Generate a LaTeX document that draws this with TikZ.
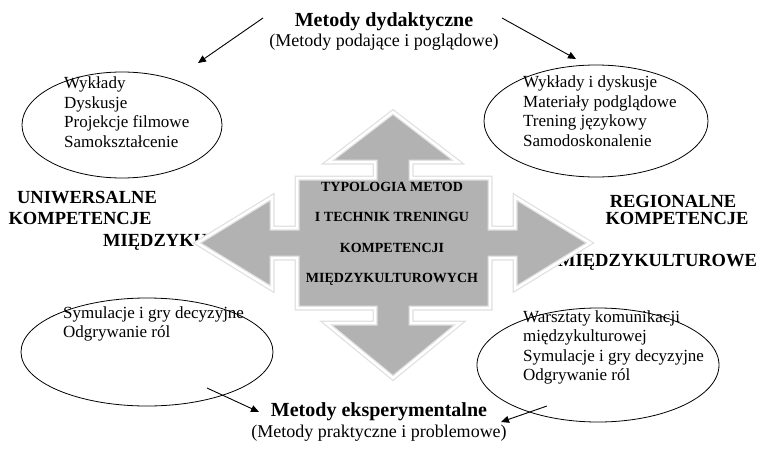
\documentclass[tikz,border=0pt]{standalone}
\usepackage{fontspec}
\setmainfont{Liberation Serif}
\usetikzlibrary{shapes.geometric,arrows.meta}

\tikzset{
  oval/.style={draw,shape=ellipse,line width=0.8pt,inner sep=0pt},
  lista/.style={anchor=north west,align=left,inner sep=0pt,font=\fontsize{17}{19.5}\selectfont},
  tytul/.style={inner sep=0pt,font=\bfseries\fontsize{20}{24}\selectfont},
  podtytul/.style={inner sep=0pt,font=\fontsize{18}{22}\selectfont},
  etykieta/.style={inner sep=0pt,font=\bfseries\fontsize{18.5}{22}\selectfont},
  srodek/.style={inner sep=0pt,align=center,font=\bfseries\fontsize{14}{30.5}\selectfont},
  strzalka/.style={-{Triangle[length=8pt,width=7pt]},line width=0.9pt},
}

\begin{document}
\begin{tikzpicture}[x=1pt,y=-1pt]
    \useasboundingbox (0,0) rectangle (758,450);

    % Tytuly
    \node[tytul] (dyd) at (384,22) {Metody dydaktyczne};
    \node[podtytul] (dydp) at (384,42) {(Metody podające i poglądowe)};
    \node[tytul] (eks) at (379,412) {Metody eksperymentalne};
    \node[podtytul] (eksp) at (379,433) {(Metody praktyczne i problemowe)};

    % Elipsy
    \node[oval,minimum width=200pt,minimum height=106pt] (e1) at (122,125) {};
    \node[oval,minimum width=224pt,minimum height=112pt] (e2) at (596,121) {};
    \node[oval,minimum width=252pt,minimum height=108pt] (e3) at (147,352) {};
    \node[oval,minimum width=242pt,minimum height=114pt] (e4) at (598,365) {};

    \node[lista] (t1) at (64,77) {Wykłady\\Dyskusje\\Projekcje filmowe\\Samokształcenie};
    \node[lista] (t2) at (523,76) {Wykłady i dyskusje\\Materiały podglądowe\\Trening językowy\\Samodoskonalenie};
    \node[lista] (t3) at (63,306) {Symulacje i gry decyzyjne\\Odgrywanie ról};
    \node[lista] (t4) at (523,310) {Warsztaty komunikacji\\międzykulturowej\\Symulacje i gry decyzyjne\\Odgrywanie ról};

    % Etykiety boczne
    \node[etykieta] (u1) at (87,198) {UNIWERSALNE};
    \node[etykieta] (u2) at (80,218) {KOMPETENCJE};
    \node[etykieta,anchor=west] (u3) at (103,242) {MIĘDZYKULTUROWE};
    \node[etykieta] (r1) at (673,201) {REGIONALNE};
    \node[etykieta] (r2) at (677,218) {KOMPETENCJE};
    \node[etykieta,anchor=west] (r3) at (558,262) {MIĘDZYKULTUROWE};

    % Strzalka czterokierunkowa
    \draw[draw=black!12,line width=5pt,line join=miter,fill=black!30]
      (393,112) -- (458,162) -- (411,162) -- (411,178) -- (490,178) -- (490,228)
      -- (515,228) -- (515,197) -- (590,243) -- (515,289) -- (515,258) -- (490,258)
      -- (490,308) -- (411,308) -- (411,323) -- (460,323) -- (393,378) -- (326,323)
      -- (375,323) -- (375,308) -- (297,308) -- (297,258) -- (272,258) -- (272,289)
      -- (197,243) -- (272,197) -- (272,228) -- (297,228) -- (297,178) -- (375,178)
      -- (375,162) -- (328,162) -- cycle;
    \draw[draw=white,line width=2.5pt,line join=miter]
      (393,112) -- (458,162) -- (411,162) -- (411,178) -- (490,178) -- (490,228)
      -- (515,228) -- (515,197) -- (590,243) -- (515,289) -- (515,258) -- (490,258)
      -- (490,308) -- (411,308) -- (411,323) -- (460,323) -- (393,378) -- (326,323)
      -- (375,323) -- (375,308) -- (297,308) -- (297,258) -- (272,258) -- (272,289)
      -- (197,243) -- (272,197) -- (272,228) -- (297,228) -- (297,178) -- (375,178)
      -- (375,162) -- (328,162) -- cycle;

    \node[srodek] (typ) at (392,234) {TYPOLOGIA METOD\\I TECHNIK TRENINGU\\KOMPETENCJI\\MIĘDZYKULTUROWYCH};

    % Strzalki
    \coordinate (s1) at (263,18);
    \coordinate (k1) at (198,63);
    \coordinate (s2) at (502,18);
    \coordinate (k2) at (576,59);
    \coordinate (s3) at (207,388);
    \coordinate (k3) at (259,412);
    \coordinate (s4) at (547,406);
    \coordinate (k4) at (501,422);
    \draw[strzalka] (s1) -- (k1);
    \draw[strzalka] (s2) -- (k2);
    \draw[strzalka] (s3) -- (k3);
    \draw[strzalka] (s4) -- (k4);

\end{tikzpicture}
\end{document}
